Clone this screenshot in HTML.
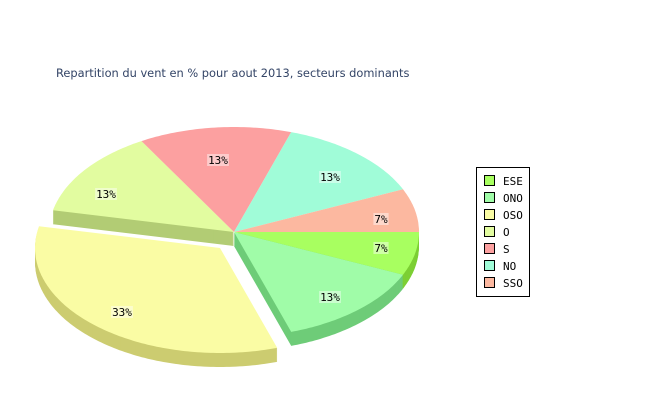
<!DOCTYPE html>
<html><head><meta charset="utf-8"><style>
body{margin:0;background:#fff;width:650px;height:400px;overflow:hidden}
svg{display:block}
text{font-family:"DejaVu Sans Mono","Liberation Mono",monospace;font-size:11px}
</style></head><body>
<svg id="s" width="650" height="400" xmlns="http://www.w3.org/2000/svg">
<text x="56" y="77" style="font-family:'DejaVu Sans','Liberation Sans',sans-serif;font-size:11.4px" fill="#334466">Repartition du vent en % pour aout 2013, secteurs dominants</text>
<g id="pie"></g>
<g id="lab"></g>
<rect x="476.5" y="167.5" width="53" height="129" fill="#fff" stroke="#000"/>
<g id="leg" style="font-family:'DejaVu Sans','Liberation Sans',sans-serif;font-size:10px"></g>
</svg>
<script>
var cx=234,cy=232,rx=185,ry=105,D=14,NS="http://www.w3.org/2000/svg";
var sl=[
 {n:"ESE",a:0,b:24,c:"#a8ff60",d:"#7ccf34",s:1},
 {n:"ONO",a:24,b:72,c:"#a0fca8",d:"#6ecc78",s:1},
 {n:"OSO",a:72,b:192,c:"#fafca4",d:"#cccc70",ox:-14,oy:16,s:1},
 {n:"O",a:192,b:240,c:"#e2fca0",d:"#b2cc74",s:1},
 {n:"S",a:240,b:288,c:"#fca0a0",d:"#cc7070"},
 {n:"NO",a:288,b:336,c:"#a0fcd8",d:"#70ccaa"},
 {n:"SSO",a:336,b:360,c:"#fcb8a0",d:"#cc8870"}];
function path(s,dy){var ox=s.ox||0,oy=(s.oy||0)+dy,x0=cx+ox,y0=cy+oy,p="M"+x0+","+y0;
 for(var t=s.a;t<=s.b;t+=1){var r=t*Math.PI/180;p+="L"+(x0+rx*Math.cos(r)).toFixed(1)+","+(y0+ry*Math.sin(r)).toFixed(1);}
 return p+"Z";}
var g=document.getElementById("pie"),h="";
sl.forEach(function(s){if(!s.s)return;for(var i=D;i>=1;i--)h+='<path d="'+path(s,i)+'" fill="'+s.d+'"/>';});
sl.forEach(function(s){h+='<path d="'+path(s,0)+'" fill="'+s.c+'"/>';});
g.innerHTML=h;
var L=[[330,297,"13%"],[381,248,"7%"],[381,219,"7%"],[330,177,"13%"],[218,160,"13%"],[106,194,"13%"],[122,312,"33%"]],lh="";
L.forEach(function(l){var w=l[2].length*6.6;lh+='<rect x="'+(l[0]-w/2-1)+'" y="'+(l[1]-6)+'" width="'+(w+2)+'" height="12" fill="#ffffff" opacity="0.45"/><text x="'+l[0]+'" y="'+(l[1]+4)+'" text-anchor="middle" fill="#000">'+l[2]+'</text>';});
document.getElementById("lab").innerHTML=lh;
var lg="";["ESE","ONO","OSO","O","S","NO","SSO"].forEach(function(n,i){var s=sl.filter(function(q){return q.n==n})[0];var y=175+i*17;
 lg+='<rect x="484.5" y="'+(y+0.5)+'" width="10" height="10" fill="'+s.c+'" stroke="#000"/><text x="503" y="'+(y+10)+'" fill="#000">'+n+'</text>';});
document.getElementById("leg").innerHTML=lg;
</script>
</body></html>
